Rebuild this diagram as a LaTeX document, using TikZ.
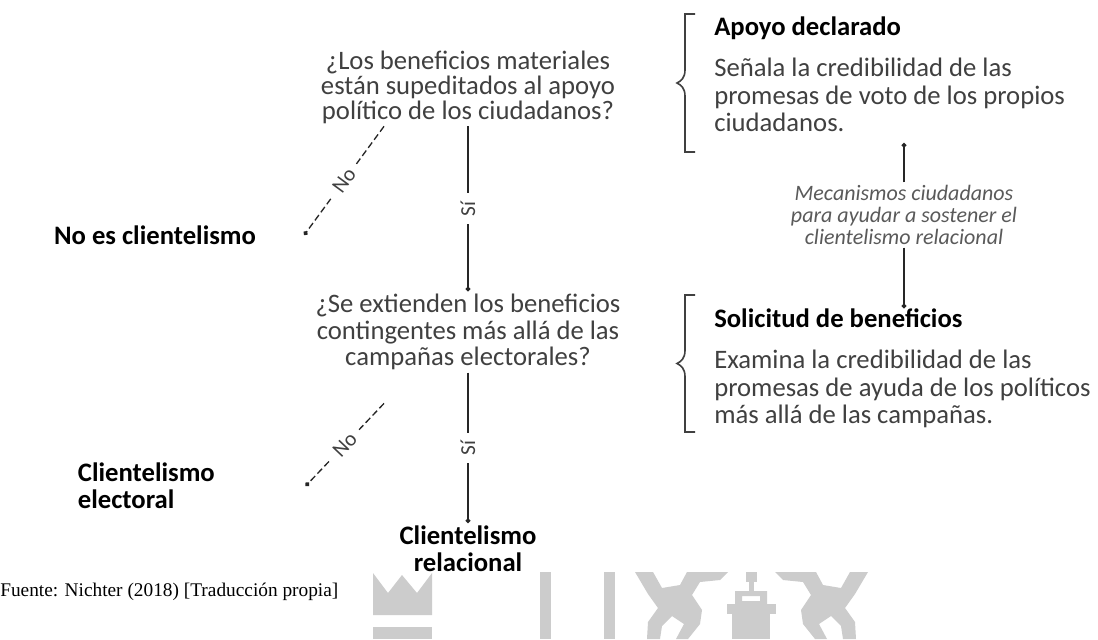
\documentclass[tikz,border=0pt]{standalone}
\usepackage{fontspec}
\setmainfont{Carlito}
\newfontfamily\timesfont{Liberation Serif}
\usetikzlibrary{positioning, calc, arrows.meta}
\definecolor{textgray}{HTML}{404040}
\definecolor{mechgray}{HTML}{5A5A5A}
\definecolor{linegray}{HTML}{262626}
\definecolor{markgray}{HTML}{CCCCCC}
\tikzstyle{question}=[
  align=center,
  inner sep=2pt,
  text=textgray,
  font={\fontsize{20}{18.75}\selectfont}
]
\tikzstyle{outcome}=[
  inner sep=2pt,
  text=black,
  font={\fontsize{20}{20.3}\selectfont\bfseries}
]
\tikzstyle{heading}=[anchor=west, inner sep=0pt, font={\fontsize{20}{20.6}\selectfont\bfseries}]
\tikzstyle{body}=[anchor=west, align=left, inner sep=0pt, text=textgray, font={\fontsize{20}{20.6}\selectfont}]
\tikzstyle{mech}=[align=center, inner sep=2pt, text=mechgray, font={\fontsize{16.5}{16.5}\selectfont\itshape}]
\tikzstyle{lbl}=[fill=white, inner xsep=6pt, inner ysep=1pt, text=textgray, font={\fontsize{16}{16}\selectfont}]
\tikzstyle{yesline}=[draw=linegray, line width=1pt, -{Circle[length=3.5pt]}]
\tikzstyle{noline}=[yesline, dash pattern=on 5pt off 2.5pt]
\tikzstyle{brk}=[draw=textgray, line width=1.2pt]

\begin{document}
\begin{tikzpicture}[x=0.75pt, y=-0.75pt]

\newcommand\BRK[2]{%
  \draw[brk] (695,#1) -- (685,#1) -- (685,{(#1+#2)/2-13})
    .. controls (685,{(#1+#2)/2-5}) and (681,{(#1+#2)/2-2}) .. (677,{(#1+#2)/2})
    .. controls (681,{(#1+#2)/2+2}) and (685,{(#1+#2)/2+5}) .. (685,{(#1+#2)/2+13})
    -- (685,#2) -- (695,#2);
}

\fill[white] (0,0) rectangle (1098,639);
\useasboundingbox (0,0) rectangle (1098,639);

%% watermark
\begin{scope}[markgray]
\fill (373,573) -- (388,593) -- (402,575) -- (417,593) -- (432,573) -- (432,615) -- (373,615) -- cycle;
\fill (373,627) rectangle (432,639);
\fill (540,572) rectangle (551,639);
\fill (604,572) rectangle (615,639);
\fill (746,572) rectangle (757,582);
\fill (749,582) rectangle (754,591);
\fill[even odd rule] (735,591) rectangle (767,605) (742,596) rectangle (760,601);
\fill (727,604) rectangle (776,614);
\fill (732,614) rectangle (770,639);
\foreach \s/\o in {1/0, -1/1503} {
\begin{scope}[shift={(\o,0)}, xscale=\s]
\fill (635,572) -- (653,572) -- (662,588) -- (680,585) -- (687,572) -- (728,572) -- (720,580)
  -- (700,582) -- (692,595) -- (702,610) -- (700,624) -- (688,639) -- (676,639) -- (684,624)
  -- (672,616) -- (662,626) -- (660,639) -- (647,639) -- (648,622) -- (658,608) -- (648,594) -- cycle;
\end{scope}
}
\end{scope}

%% decision tree
\node[question] (q1) at (468,87) {¿Los beneficios materiales\\están supeditados al apoyo\\político de los ciudadanos?};
\node[question, font={\fontsize{20}{19.8}\selectfont}] (q2) at (468,332) {¿Se extienden los beneficios\\contingentes más allá de las\\campañas electorales?};
\node[outcome] (noclient) at (155,235) {No es clientelismo};
\node[outcome, anchor=west, align=left] (electoral) at (75,486) {Clientelismo\\electoral};
\node[outcome, align=center] (relational) at (468,549) {Clientelismo\\relacional};

\draw[yesline] (q1.south) -- node[lbl, rotate=90] {Sí} (q2.north);
\draw[yesline] (q2.south) -- node[lbl, rotate=90] {Sí} (relational.north);
\draw[noline] ([xshift=-63pt]q1.south) -- node[lbl, sloped] {No} ([xshift=34pt]noclient.east);
\draw[noline] ([xshift=-63pt, yshift=-23pt]q2.south) -- node[lbl, sloped] {No} ([xshift=66pt]electoral.east);

%% right side
\BRK{14}{152}
\BRK{295}{432}

\node[heading] (apoyo) at (714,28) {Apoyo declarado};
\node[body] (apoyotxt) at (714,95) {Señala la credibilidad de las\\promesas de voto de los propios\\ciudadanos.};
\node[heading] (solicitud) at (714,318) {Solicitud de beneficios};
\node[body] (solicitudtxt) at (714,389) {Examina la credibilidad de las\\promesas de ayuda de los políticos\\más allá de las campañas.};

\node[mech] (mech) at (904,215) {Mecanismos ciudadanos\\para ayudar a sostener el\\clientelismo relacional};
\coordinate (up) at (904,143);
\draw[yesline] (mech.north) -- (up);
\draw[yesline] (mech.south) -- (mech.south |- solicitud.north);

\node[anchor=west, inner sep=0pt, font={\timesfont\fontsize{14.5}{15}\selectfont}] (fuente) at (0,592) {Fuente: Nichter (2018) [Traducción propia]};

\end{tikzpicture}
\end{document}
